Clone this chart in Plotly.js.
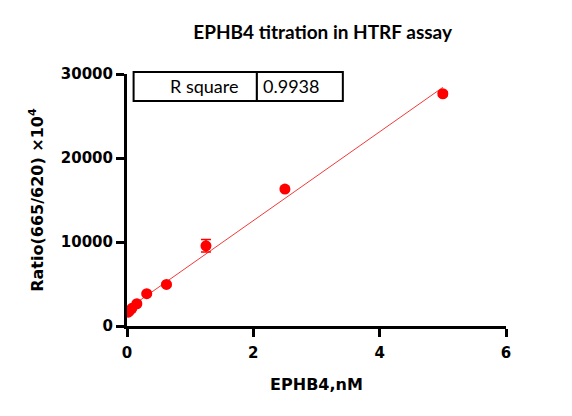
<!DOCTYPE html>
<html>
<head>
<meta charset="utf-8">
<script src="https://cdn.plot.ly/plotly-3.0.1.min.js"></script>
<style>html,body{margin:0;padding:0;background:#fff;}#chart{width:572px;height:416px;}</style>
</head>
<body>
<div id="chart"></div>
<script>
// EPHB4 concentration (nM), 2-fold dilution series
var concentration = [0.0195, 0.039, 0.078, 0.156, 0.3125, 0.625, 1.25, 2.5, 5];
// HTRF ratio (665/620) x 10^4, mean values
var ratio = [1650, 1800, 2100, 2650, 3850, 4950, 9550, 16300, 27650];
// standard deviation of the replicates
var ratioSD = [60, 60, 80, 100, 120, 150, 750, 200, 250];
var rSquareLabel = "R square";
var rSquareValue = "0.9938";
var xTicks = [0, 2, 4, 6];
var yTicks = [0, 10000, 20000, 30000];

// least-squares linear fit of the data
var n = concentration.length, mx = 0, my = 0;
for (var i = 0; i < n; i++) { mx += concentration[i]; my += ratio[i]; }
mx /= n; my /= n;
var sxx = 0, sxy = 0;
for (var i = 0; i < n; i++) {
  sxx += (concentration[i] - mx) * (concentration[i] - mx);
  sxy += (concentration[i] - mx) * (ratio[i] - my);
}
var slope = sxy / sxx, intercept = my - slope * mx;
var fitX = [concentration[0], concentration[n - 1]];
var fitY = fitX.map(function (x) { return intercept + slope * x; });

var red = "#ff0000";
var axFont = "DejaVu Sans, sans-serif";
var txtFont = "Lato, sans-serif";

var traces = [
  { x: fitX, y: fitY, mode: "lines", line: { color: "#f23a3a", width: 1 }, hoverinfo: "skip", showlegend: false },
  { x: concentration, y: ratio, mode: "markers", type: "scatter",
    marker: { color: red, size: 11 },
    error_y: { type: "data", array: ratioSD, visible: true, color: red, thickness: 1.5, width: 5 },
    showlegend: false }
];

var tickFont = { family: axFont, size: 15, color: "#000", weight: "bold" };
var layout = {
  width: 572, height: 416,
  margin: { l: 127, r: 66, t: 74, b: 90 },
  paper_bgcolor: "#fff", plot_bgcolor: "#fff",
  title: { text: "<b>EPHB4 titration in HTRF assay</b>", font: { family: txtFont, size: 19, color: "#000" },
           x: 0.564, xanchor: "center", y: 0.923, yanchor: "middle" },
  xaxis: {
    range: [0, 6], tickvals: xTicks, ticktext: xTicks.map(String),
    showgrid: false, zeroline: false, showline: true, linecolor: "#000", linewidth: 3,
    ticks: "outside", ticklen: 8, tickwidth: 3, tickcolor: "#000", ticklabelstandoff: 3,
    tickfont: tickFont,
    title: { text: "<b>EPHB4,nM</b>", font: { family: axFont, size: 16, color: "#000" }, standoff: 18 }
  },
  yaxis: {
    range: [0, 30000], tickvals: yTicks, ticktext: yTicks.map(String),
    showgrid: false, zeroline: false, showline: true, linecolor: "#000", linewidth: 3,
    ticks: "outside", ticklen: 8, tickwidth: 3, tickcolor: "#000",
    tickfont: tickFont,
    title: { text: "<b>Ratio(665/620) ×10<sup>4</sup></b>", font: { family: axFont, size: 16, color: "#000" }, standoff: 14 }
  },
  shapes: [
    { type: "rect", xref: "paper", yref: "paper", x0: 0.0174, x1: 0.3427, y0: 0.8927, y1: 1.008,
      line: { color: "#000", width: 2 }, fillcolor: "#fff" },
    { type: "rect", xref: "paper", yref: "paper", x0: 0.3427, x1: 0.5695, y0: 0.8927, y1: 1.008,
      line: { color: "#000", width: 2 }, fillcolor: "#fff" }
  ],
  annotations: [
    { xref: "paper", yref: "paper", x: 0.203, y: 0.952, text: rSquareLabel, showarrow: false,
      xanchor: "center", yanchor: "middle", font: { family: txtFont, size: 18, color: "#000" } },
    { xref: "paper", yref: "paper", x: 0.432, y: 0.952, text: rSquareValue, showarrow: false,
      xanchor: "center", yanchor: "middle", font: { family: txtFont, size: 18, color: "#000" } }
  ]
};

Plotly.newPlot("chart", traces, layout, { displayModeBar: false, staticPlot: true });
</script>
</body>
</html>
